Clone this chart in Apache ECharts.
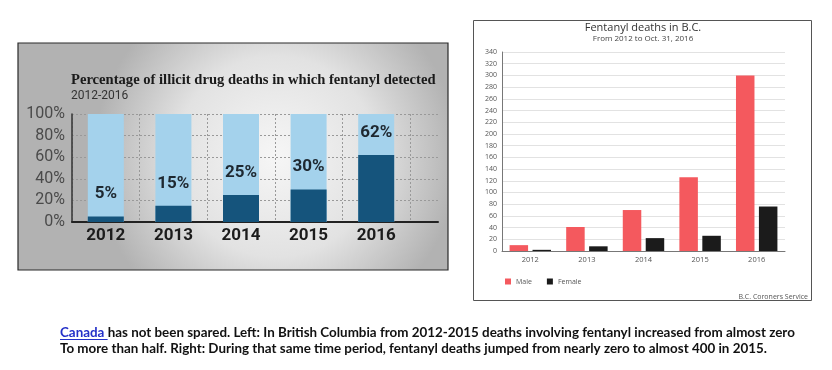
<!DOCTYPE html>
<html><head><meta charset="utf-8">
<script src="https://cdn.jsdelivr.net/npm/echarts@6/dist/echarts.min.js"></script>
<style>html,body{margin:0;padding:0;background:#fff}#c{width:832px;height:370px}</style>
</head><body><div id="c"></div>
<script>
// ---- data ----
const years = ['2012', '2013', '2014', '2015', '2016'];
const pctFentanyl = [5, 15, 25, 30, 62];
const pctTicks = [0, 20, 40, 60, 80, 100];
const maleDeaths = [10, 41, 70, 126, 300];
const femaleDeaths = [2, 8, 22, 26, 76];
const deathTicks = [0, 20, 40, 60, 80, 100, 120, 140, 160, 180, 200, 220, 240, 260, 280, 300, 320, 340];
const leftTitle = 'Percentage of illicit drug deaths in which fentanyl detected';
const leftSub = '2012-2016';
const rightTitle = 'Fentanyl deaths in B.C.';
const rightSub = 'From 2012 to Oct. 31, 2016';
const source = 'B.C. Coroners Service';
const captionLink = 'Canada ';
const caption1 = 'has not been spared. Left: In British Columbia from 2012-2015 deaths involving fentanyl increased from almost zero';
const caption2 = 'To more than half. Right: During that same time period, fentanyl deaths jumped from nearly zero to almost 400 in 2015.';

// ---- font fitting ----
const cv = document.createElement('canvas').getContext('2d');
function fit(family, text, width) {
  cv.font = 'bold 100px ' + family;
  return Math.round(100 * width / cv.measureText(text).width * 10) / 10;
}
const capFamily = 'Lato';
const capSize = fit(capFamily, captionLink + caption1, 737);
cv.font = 'bold ' + capSize + 'px ' + capFamily;
const linkW = cv.measureText(captionLink).width;
const titleFamily = 'Liberation Serif';
const titleSize = Math.min(15, fit(titleFamily, leftTitle, 365));

const chart = echarts.init(document.getElementById('c'), null, {renderer: 'canvas'});
const option = {
  animation: false,
  title: [
    {text: leftTitle, subtext: leftSub, left: 71, top: 73, padding: 0, itemGap: 2,
     textStyle: {fontFamily: titleFamily, fontWeight: 'bold', fontSize: titleSize, color: '#1a1a1a'},
     subtextStyle: {fontFamily: 'Roboto', fontSize: 12, color: '#333'}},
    {text: rightTitle, subtext: rightSub, left: 643, textAlign: 'center', top: 22, padding: 0, itemGap: 2,
     textStyle: {fontFamily: 'Open Sans', fontWeight: 'normal', fontSize: 11, color: '#333'},
     subtextStyle: {fontFamily: 'Open Sans', fontSize: 8, color: '#444'}}
  ],
  legend: {data: ['Male', 'Female'], left: 505, top: 278, icon: 'rect', itemWidth: 6, itemHeight: 6,
    itemGap: 15, padding: 0, textStyle: {fontFamily: 'Open Sans', fontSize: 7, color: '#555'}},
  grid: [
    {left: 72, top: 114, width: 366, height: 108},
    {left: 72, top: 114, width: 338, height: 108},
    {left: 502, top: 52, width: 283, height: 199}
  ],
  xAxis: [
    {gridIndex: 0, type: 'value', min: 0, max: 1, axisLine: {show: true, onZero: false, lineStyle: {color: '#222', width: 2}},
     axisLabel: {show: false}, axisTick: {show: false}, splitLine: {show: false}},
    {gridIndex: 1, type: 'category', data: years, axisLine: {show: false}, axisTick: {show: false},
     axisLabel: {fontFamily: 'Roboto', fontWeight: 'bold', fontSize: 17, color: '#1c1c1c', margin: 5},
     splitLine: {show: true, lineStyle: {color: '#999', type: [2, 2], width: 1}}},
    {gridIndex: 2, type: 'category', data: years, axisLine: {lineStyle: {color: '#777'}}, axisTick: {show: false},
     axisLabel: {fontFamily: 'Open Sans', fontSize: 7.5, color: '#555', margin: 5}}
  ],
  yAxis: [
    {gridIndex: 0, type: 'value', min: pctTicks[0], max: pctTicks[pctTicks.length - 1], interval: pctTicks[1] - pctTicks[0],
     axisLine: {show: true, lineStyle: {color: '#333', width: 1.5}}, axisTick: {show: false},
     axisLabel: {formatter: '{value}%', fontFamily: 'Roboto', fontSize: 16, color: '#4a4a4a', margin: 7},
     splitLine: {show: true, lineStyle: {color: '#999', type: [2, 2], width: 1}}},
    {gridIndex: 1, type: 'value', min: pctTicks[0], max: pctTicks[pctTicks.length - 1], show: false},
    {gridIndex: 2, type: 'value', min: deathTicks[0], max: deathTicks[deathTicks.length - 1], interval: deathTicks[1] - deathTicks[0],
     axisLine: {show: true, lineStyle: {color: '#777'}}, axisTick: {show: false},
     axisLabel: {fontFamily: 'Open Sans', fontSize: 7, color: '#555', margin: 5},
     splitLine: {lineStyle: {color: '#e2e2e2'}}}
  ],
  series: [
    {name: 'Fentanyl detected', type: 'bar', xAxisIndex: 1, yAxisIndex: 1, data: pctFentanyl, barWidth: 36,
     itemStyle: {color: '#15547c'}, showBackground: true, backgroundStyle: {color: '#a4d2ec'},
     label: {show: true, position: 'top', distance: 14, formatter: '{c}%', fontFamily: 'Roboto', fontWeight: 'bold', fontSize: 17, color: '#1e2830'}},
    {name: 'Male', type: 'bar', xAxisIndex: 2, yAxisIndex: 2, data: maleDeaths, barWidth: 18.5, barGap: '24%',
     itemStyle: {color: '#f4595e'}},
    {name: 'Female', type: 'bar', xAxisIndex: 2, yAxisIndex: 2, data: femaleDeaths, barWidth: 18.5, barGap: '24%',
     itemStyle: {color: '#1b1b1b'}}
  ],
  graphic: [
    {type: 'rect', z: -100, shape: {x: 18, y: 43, width: 430, height: 227},
     style: {fill: {type: 'radial', x: 0.6, y: 0.5, r: 0.8, colorStops: [{offset: 0, color: '#f6f6f6'}, {offset: 0.55, color: '#e2e2e2'}, {offset: 1, color: '#b2b2b2'}]},
       stroke: '#2a2a2a', lineWidth: 1.2}},
    {type: 'rect', z: -100, shape: {x: 473.5, y: 20.5, width: 338, height: 280},
     style: {fill: '#fff', stroke: '#555', lineWidth: 1}},
    {type: 'text', z: 100, x: 808, y: 297, style: {text: source, align: 'right', verticalAlign: 'middle',
      fontFamily: 'Open Sans', fontSize: 7, fill: '#555'}},
    {type: 'text', z: 100, x: 60, y: 333, style: {text: '{link|' + captionLink + '}' + caption1, verticalAlign: 'middle',
      fontFamily: capFamily, fontWeight: 'bold', fontSize: capSize, fill: '#111',
      rich: {link: {fontFamily: capFamily, fontWeight: 'bold', fontSize: capSize, fill: '#2430c8', color: '#2430c8'}}}},
    {type: 'line', z: 100, shape: {x1: 60, y1: 339.5, x2: 60 + linkW, y2: 339.5}, style: {stroke: '#2430c8', lineWidth: 1}},
    {type: 'text', z: 100, x: 60, y: 349, style: {text: caption2, verticalAlign: 'middle',
      fontFamily: capFamily, fontWeight: 'bold', fontSize: capSize, fill: '#111'}}
  ]
};
chart.setOption(option);
</script>
</body></html>
